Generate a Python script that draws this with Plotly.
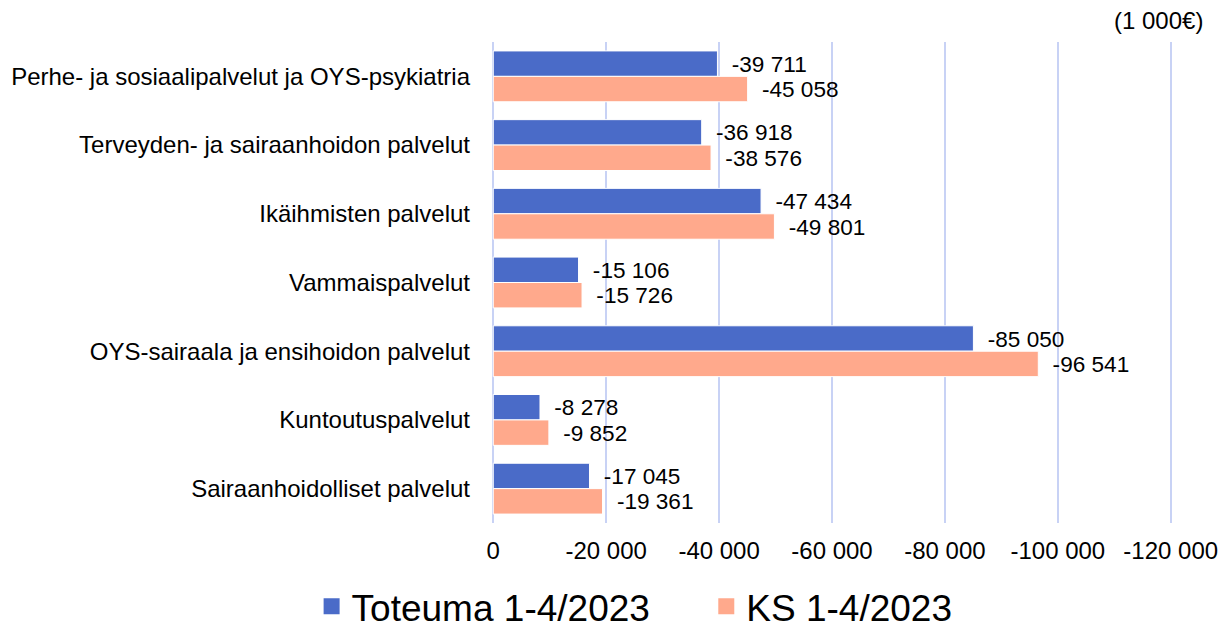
import plotly.graph_objects as go

categories = [
    "Perhe- ja sosiaalipalvelut ja OYS-psykiatria",
    "Terveyden- ja sairaanhoidon palvelut",
    "Ikäihmisten palvelut",
    "Vammaispalvelut",
    "OYS-sairaala ja ensihoidon palvelut",
    "Kuntoutuspalvelut",
    "Sairaanhoidolliset palvelut",
]
toteuma = [-39711, -36918, -47434, -15106, -85050, -8278, -17045]
ks = [-45058, -38576, -49801, -15726, -96541, -9852, -19361]
series_names = ["Toteuma 1-4/2023", "KS 1-4/2023"]
tick_values = [0, -20000, -40000, -60000, -80000, -100000, -120000]
tick_labels = ["0", "-20 000", "-40 000", "-60 000", "-80 000", "-100 000", "-120 000"]
unit_label = "(1 000€)"

BLUE = "#4A6BC8"
SALMON = "#FFA98C"
GRID = "#C8D2F5"
FONT = "Liberation Sans, Arial, sans-serif"
FS = 24


def fmt(v):
    return "\u2002" + f"{v:,}".replace(",", " ")


legend_pad = ["\u00a0" * 5, ""]

fig = go.Figure()
for i, (name, vals, col) in enumerate([(series_names[0], toteuma, BLUE), (series_names[1], ks, SALMON)]):
    fig.add_trace(go.Bar(
        y=categories, x=vals, orientation="h", name=name,
        marker=dict(color=col, line=dict(color="white", width=1)),
        text=[fmt(v) for v in vals], textposition="outside",
        textfont=dict(size=FS, color="black", family=FONT),
        cliponaxis=False, showlegend=False, hoverinfo="x+y",
    ))
    fig.add_trace(go.Scatter(
        x=[None], y=[None], mode="markers", name=name + legend_pad[i],
        marker=dict(symbol="square", size=19, color=col),
        showlegend=True,
    ))

fig.update_layout(
    width=1222, height=628,
    margin=dict(l=491, r=49, t=42, b=105, autoexpand=False),
    paper_bgcolor="white", plot_bgcolor="white",
    font=dict(family=FONT, size=FS, color="black"),
    barmode="group", bargap=0.26, bargroupgap=0,
    showlegend=True,
    legend=dict(
        orientation="h", xref="container", yref="container",
        x=0.255, xanchor="left", y=0.034, yanchor="middle",
        font=dict(size=37, color="black", family=FONT),
        itemsizing="trace", tracegroupgap=0,
    ),
    annotations=[dict(
        text=unit_label, xref="paper", yref="paper",
        x=1.0, xanchor="right", xshift=32, y=1.0, yanchor="top", yshift=37,
        showarrow=False, font=dict(size=FS, color="black", family=FONT),
    )],
)
fig.update_xaxes(
    range=[400, -120400], tickvals=tick_values, ticktext=tick_labels,
    showgrid=True, gridcolor=GRID, gridwidth=2, zeroline=False,
    showline=False, ticks="", ticklabelstandoff=11, automargin=False,
    tickfont=dict(size=FS, color="black", family=FONT),
)
fig.update_yaxes(
    type="category", categoryorder="array", categoryarray=categories,
    autorange="reversed", showgrid=False, zeroline=False, showline=False,
    ticks="", ticklabelstandoff=20, automargin=False,
    tickfont=dict(size=FS, color="black", family=FONT),
)

fig.write_html(
    "out.html",
    config={"displayModeBar": False},
    post_script="document.body.style.margin='0';document.body.style.overflow='hidden';",
)
